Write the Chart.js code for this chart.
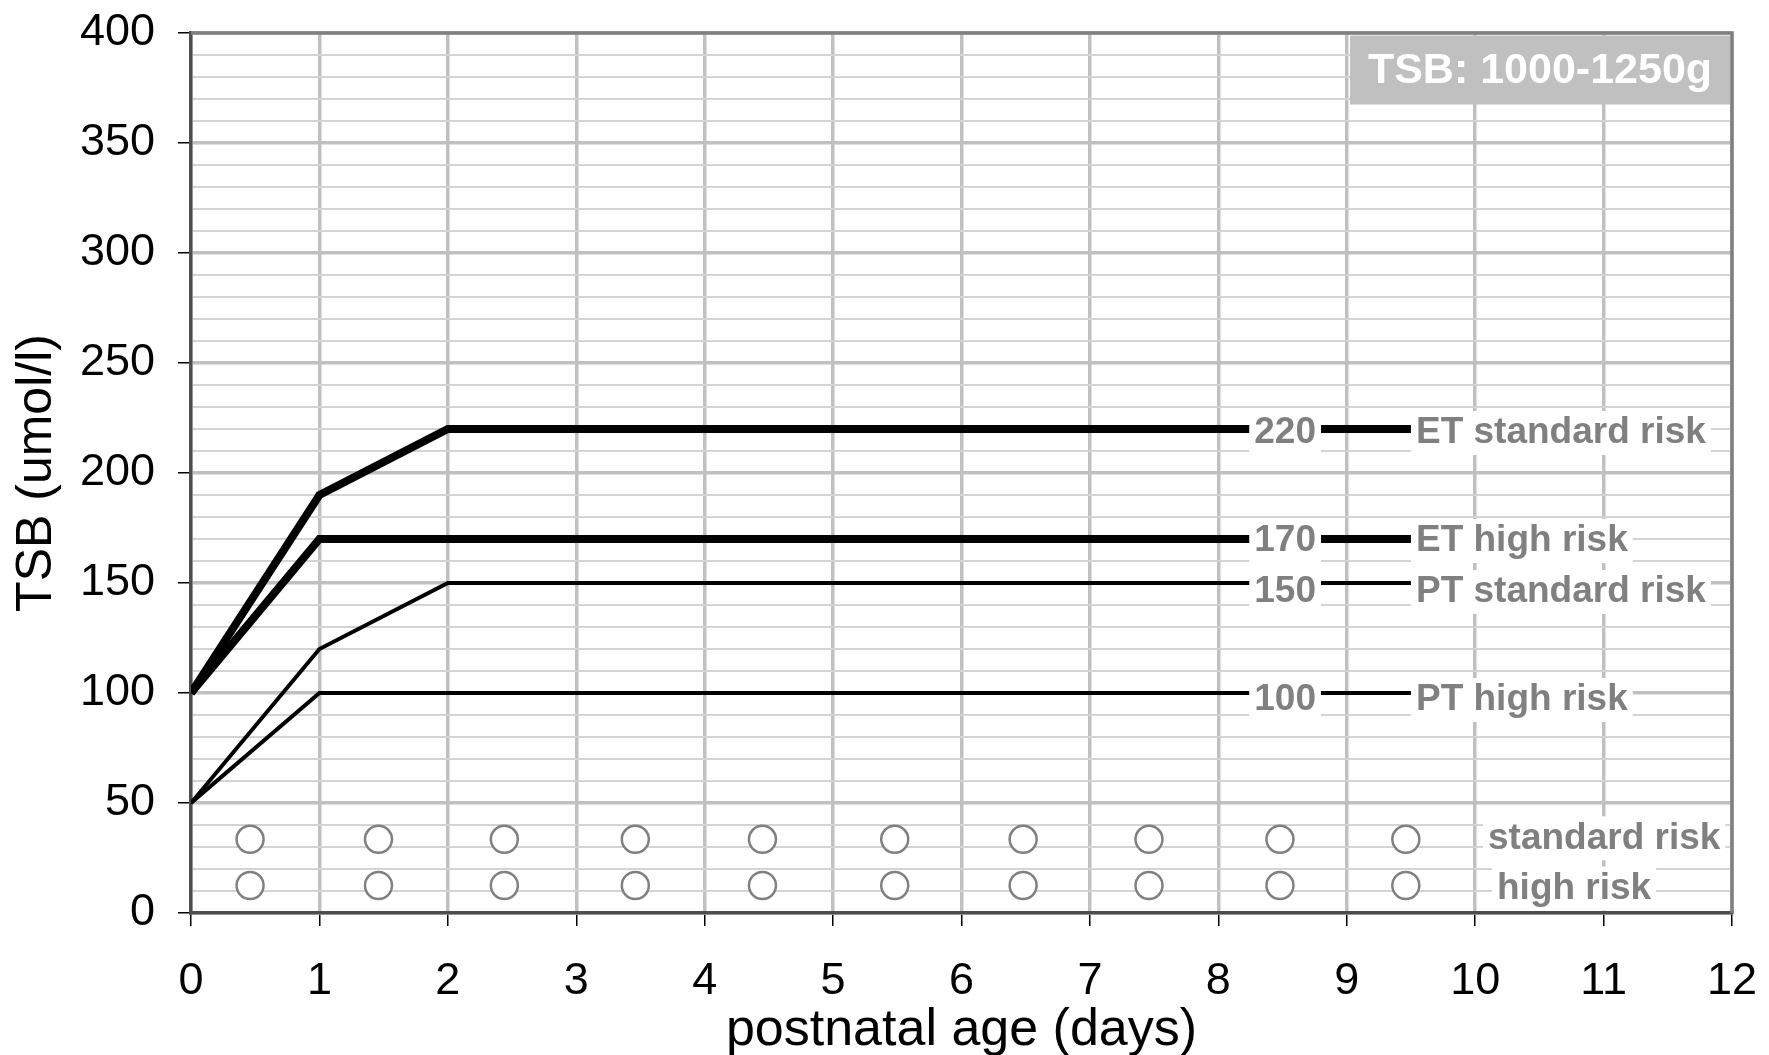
<!DOCTYPE html>
<html>
<head>
<meta charset="utf-8">
<title>TSB: 1000-1250g</title>
<script src="https://cdn.jsdelivr.net/npm/chart.js@4/dist/chart.umd.min.js"></script>
<style>
    html, body { margin: 0; padding: 0; background: #fff; }
    #wrap { width: 1769px; height: 1055px; }
</style>
</head>
<body>
<div id="wrap"><canvas id="tsbChart" width="1769" height="1055"></canvas></div>
<script>
/* globals Chart:false */

// threshold curves (postnatal age in days -> TSB umol/l)
const dayPoints = [0, 1, 2, 9.5];
const etStandardRisk = [100, 190, 220, 220];
const etHighRisk = [100, 170, 170, 170];
const ptStandardRisk = [50, 120, 150, 150];
const ptHighRisk = [50, 100, 100, 100];
const seriesNames = ["ET standard risk", "ET high risk", "PT standard risk", "PT high risk"];

// empty measurement circles
const circleDays = [0.46, 1.46, 2.44, 3.46, 4.45, 5.48, 6.48, 7.46, 8.48, 9.46];
const standardRiskRow = [33.5, 33.5, 33.5, 33.5, 33.5, 33.5, 33.5, 33.5, 33.5, 33.5];
const highRiskRow = [12.5, 12.5, 12.5, 12.5, 12.5, 12.5, 12.5, 12.5, 12.5, 12.5];
const rowNames = ["standard risk", "high risk"];

const xTickLabels = [0, 1, 2, 3, 4, 5, 6, 7, 8, 9, 10, 11, 12];
const yTickLabels = [0, 50, 100, 150, 200, 250, 300, 350, 400];

const boxTitle = "TSB: 1000-1250g";
const xTitle = "postnatal age (days)";
const yTitle = "TSB (umol/l)";

(function () {
    const LABEL_GREY = "#808080";

    Chart.defaults.font.family = "'Liberation Sans', Arial, Helvetica, sans-serif";

    var $canvas = document.getElementById("tsbChart");

    function toPoints(xs, ys) {
        return xs.map((x, idx) => ({ x: x, y: ys[idx] }));
    }

    function isMajor(ctx) {
        return ctx.tick && Math.round(ctx.tick.value) % 50 === 0;
    }

    // keep the plot area where the layout padding puts it
    function noEdgePadding(scale) {
        scale.paddingTop = 0;
        scale.paddingBottom = 0;
        scale.paddingLeft = 0;
        scale.paddingRight = 0;
    }

    function lineDataset(values, width) {
        return {
            type: "line",
            data: toPoints(dayPoints, values),
            borderColor: "#000",
            borderWidth: width,
            borderJoinStyle: "miter",
            pointRadius: 0,
            fill: false,
            tension: 0
        };
    }

    function circleDataset(values) {
        return {
            type: "line",
            data: toPoints(circleDays, values),
            showLine: false,
            pointStyle: "circle",
            pointRadius: 13.5,
            pointBorderWidth: 2.5,
            pointBorderColor: LABEL_GREY,
            pointBackgroundColor: "#fff"
        };
    }

    function boxedText(ctx, text, left, y) {
        var w = ctx.measureText(text).width;

        ctx.fillStyle = "#fff";
        ctx.fillRect(left - 5, y - 22, w + 10, 44);
        ctx.fillStyle = LABEL_GREY;
        ctx.fillText(text, left, y);
    }

    var riskLabels = {
        id: "riskLabels",
        afterDatasetsDraw(chart) {
            var ctx = chart.ctx,
                area = chart.chartArea,
                xs = chart.scales.x,
                ys = chart.scales.y;

            var curves = [etStandardRisk, etHighRisk, ptStandardRisk, ptHighRisk],
                nudge = [4, 2, 9, 7];

            ctx.save();
            ctx.font = "bold 37px 'Liberation Sans', Arial, sans-serif";
            ctx.textAlign = "left";
            ctx.textBaseline = "middle";

            curves.forEach((values, idx) => {
                var last = values[values.length - 1],
                    y = ys.getPixelForValue(last) + nudge[idx],
                    valueText = String(last),
                    w = ctx.measureText(valueText).width;

                boxedText(ctx, valueText, xs.getPixelForValue(8.52) - w / 2, y);
                boxedText(ctx, seriesNames[idx], xs.getPixelForValue(dayPoints[dayPoints.length - 1]) + 5, y);
            });

            [standardRiskRow, highRiskRow].forEach((row, idx) => {
                var left = xs.getPixelForValue([10.1, 10.17][idx]);
                boxedText(ctx, rowNames[idx], left, ys.getPixelForValue(row[0]) + [-1, 3][idx]);
            });

            // title box in the top right corner
            var bw = 380, bh = 69,
                bx = area.right - 2 - bw,
                by = area.top + 2.5;

            ctx.fillStyle = "#c0c0c0";
            ctx.fillRect(bx, by, bw, bh);
            ctx.font = "bold 43px 'Liberation Sans', Arial, sans-serif";
            ctx.textAlign = "center";
            ctx.fillStyle = "#fff";
            ctx.fillText(boxTitle, bx + bw / 2, by + bh / 2 + 1);

            // top and right frame
            ctx.strokeStyle = "#808080";
            ctx.lineWidth = 3.5;
            ctx.beginPath();
            ctx.moveTo(area.left, area.top);
            ctx.lineTo(area.right, area.top);
            ctx.lineTo(area.right, area.bottom);
            ctx.stroke();
            ctx.restore();
        }
    };

    new Chart($canvas, {
        data: {
            datasets: [
                lineDataset(etStandardRisk, 8),
                lineDataset(etHighRisk, 8),
                lineDataset(ptStandardRisk, 4),
                lineDataset(ptHighRisk, 4),
                circleDataset(standardRiskRow),
                circleDataset(highRiskRow)
            ]
        },
        options: {
            responsive: false,
            animation: false,
            events: [],
            devicePixelRatio: 1,
            layout: {
                padding: { top: 33, right: 37, left: 0, bottom: 0 }
            },
            plugins: {
                legend: { display: false },
                tooltip: { enabled: false }
            },
            scales: {
                x: {
                    type: "linear",
                    min: 0,
                    max: 12,
                    ticks: {
                        stepSize: 1,
                        autoSkip: false,
                        maxRotation: 0,
                        color: "#000",
                        padding: 29,
                        font: { size: 45 },
                        callback: v => xTickLabels.includes(v) ? String(v) : ""
                    },
                    grid: {
                        color: "#c0c0c0",
                        lineWidth: 3.5,
                        tickLength: 13,
                        tickColor: "#000",
                        tickWidth: 1.5
                    },
                    border: { color: "#4d4d4d", width: 3.5 },
                    title: {
                        display: true,
                        text: xTitle,
                        color: "#000",
                        font: { size: 52, lineHeight: 0.92 },
                        padding: { top: 0, bottom: 0 }
                    },
                    afterFit: scale => {
                        scale.height = 142;
                        noEdgePadding(scale);
                    }
                },
                y: {
                    type: "linear",
                    min: 0,
                    max: 400,
                    ticks: {
                        stepSize: 10,
                        autoSkip: false,
                        color: "#000",
                        padding: 23,
                        font: { size: 45 },
                        callback: v => yTickLabels.includes(Math.round(v)) ? String(Math.round(v)) : ""
                    },
                    grid: {
                        color: ctx => isMajor(ctx) ? "#c0c0c0" : "#d4d4d4",
                        lineWidth: ctx => isMajor(ctx) ? 3.5 : 2,
                        tickLength: 13,
                        tickColor: ctx => isMajor(ctx) ? "#000" : "rgba(0,0,0,0)",
                        tickWidth: 1.5
                    },
                    border: { color: "#4d4d4d", width: 3.5 },
                    title: {
                        display: true,
                        text: yTitle,
                        color: "#000",
                        font: { size: 50, lineHeight: 1 },
                        padding: { top: 12, bottom: 0 }
                    },
                    afterFit: scale => {
                        scale.width = 191;
                        noEdgePadding(scale);
                    }
                }
            }
        },
        plugins: [riskLabels]
    });
})();
</script>
</body>
</html>
